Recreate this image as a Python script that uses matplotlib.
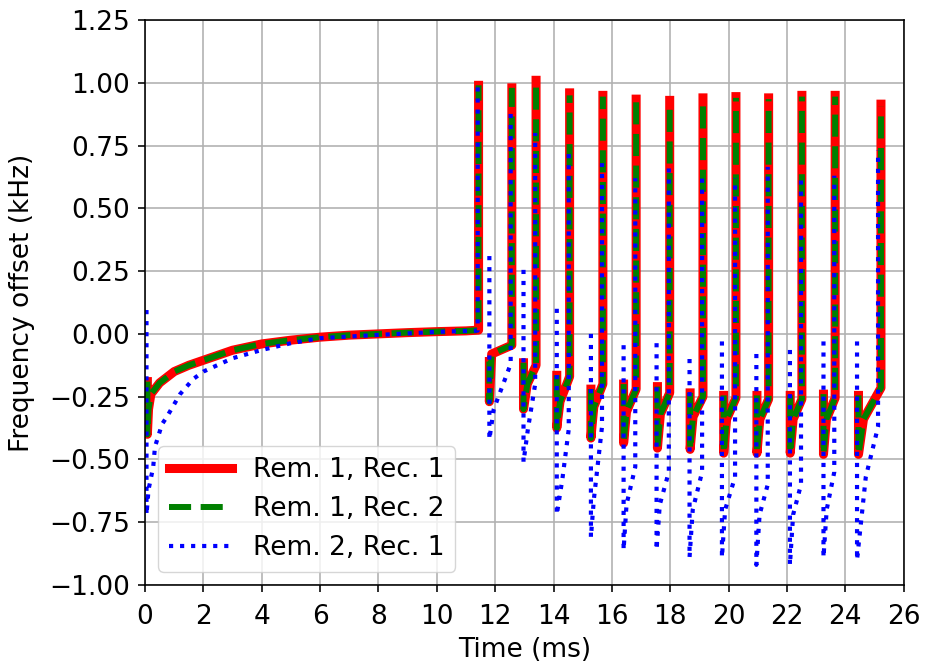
import numpy as np
import matplotlib
matplotlib.use('Agg')
import matplotlib.pyplot as plt

# settling curve after power-on (red and green share it), ends in the first spike
rem1_init_t = [0.08, 0.08, 0.12, 0.2, 0.5, 1.0, 1.5, 2.0, 3.0, 4.0, 5.0, 6.0, 7.0, 8.0, 9.0, 10.0, 11.0, 11.43, 11.43]
rem1_init_y = [-0.19, -0.40, -0.30, -0.24, -0.195, -0.15, -0.125, -0.105, -0.065, -0.04, -0.025, -0.013, -0.005, 0.0, 0.005, 0.009, 0.012, 0.015, 0.99]

rem2_init_t = [0.05, 0.05, 0.12, 0.28, 0.34, 0.58, 0.75, 1.2, 1.65, 2.0, 3.0, 4.0, 5.0, 6.0, 8.0, 10.0, 11.40, 11.40]
rem2_init_y = [0.095, -0.72, -0.62, -0.53, -0.45, -0.36, -0.33, -0.24, -0.18, -0.15, -0.097, -0.064, -0.037, -0.017, -0.004, 0.008, 0.013, 0.99]

# burst segments: drop at seg start, recovery, then spike
rem1_seg_start = [11.80, 12.97, 14.11, 15.28, 16.40, 17.56, 18.68, 19.83, 20.97, 22.11, 23.25, 24.45]
rem1_seg_top = [-0.11, -0.115, -0.165, -0.22, -0.20, -0.21, -0.235, -0.245, -0.245, -0.245, -0.24, -0.245]
rem1_seg_bottom = [-0.27, -0.30, -0.375, -0.415, -0.435, -0.455, -0.46, -0.475, -0.475, -0.475, -0.48, -0.48]
rem1_knee_t = [11.88, 13.10, 14.22, 15.38, 16.50, 17.66, 18.78, 19.93, 21.07, 22.21, 23.35, 24.62]
rem1_knee_y = [-0.08, -0.20, -0.27, -0.29, -0.31, -0.32, -0.33, -0.34, -0.34, -0.34, -0.34, -0.34]
rem1_spike_t = [12.57, 13.40, 14.55, 15.69, 16.83, 17.98, 19.12, 20.25, 21.37, 22.51, 23.65, 25.22]
rem1_spike_base = [-0.045, -0.125, -0.17, -0.20, -0.22, -0.235, -0.25, -0.255, -0.26, -0.26, -0.255, -0.215]
rec1_spike_peak = [0.98, 1.01, 0.96, 0.95, 0.935, 0.93, 0.94, 0.945, 0.94, 0.95, 0.95, 0.915]
rec2_spike_peak = [0.98, 0.99, 0.95, 0.945, 0.93, 0.925, 0.935, 0.94, 0.935, 0.945, 0.945, 0.905]

rem2_seg_start = [11.80, 12.97, 14.11, 15.28, 16.40, 17.53, 18.66, 19.77, 20.95, 22.10, 23.25, 24.40]
rem2_seg_top = [0.31, 0.255, 0.10, 0.0, -0.045, -0.037, -0.10, -0.03, -0.08, -0.064, -0.03, -0.03]
rem2_seg_bottom = [-0.42, -0.51, -0.72, -0.81, -0.86, -0.86, -0.89, -0.89, -0.92, -0.92, -0.89, -0.90]
rem2_knee_t = [11.95, 13.12, 14.30, 15.38, 16.50, 17.64, 18.77, 19.88, 21.06, 22.21, 23.36, 24.70]
rem2_knee_y = [-0.30, -0.38, -0.58, -0.66, -0.68, -0.68, -0.70, -0.70, -0.72, -0.72, -0.70, -0.57]
rem2_spike_t = [12.53, 13.37, 14.52, 15.66, 16.80, 17.95, 19.09, 20.22, 21.34, 22.48, 23.62, 25.12]
rem2_spike_base = [-0.12, -0.20, -0.38, -0.37, -0.53, -0.55, -0.55, -0.57, -0.60, -0.60, -0.55, -0.37]
rem2_spike_peak = [0.88, 0.80, 0.74, 0.68, 0.62, 0.68, 0.64, 0.62, 0.665, 0.62, 0.63, 0.73]


def build_trace(init_t, init_y, start, top, bottom, knee_t, knee_y, spike_t, base, peak):
    t = list(init_t)
    y = list(init_y)
    for i in range(len(start)):
        # NaN breaks the line between bursts
        t += [np.nan, start[i], start[i], knee_t[i], spike_t[i], spike_t[i]]
        y += [np.nan, top[i], bottom[i], knee_y[i], base[i], peak[i]]
    return np.array(t), np.array(y)


t_r, y_r = build_trace(rem1_init_t, rem1_init_y, rem1_seg_start, rem1_seg_top, rem1_seg_bottom,
                       rem1_knee_t, rem1_knee_y, rem1_spike_t, rem1_spike_base, rec1_spike_peak)
t_g, y_g = build_trace(rem1_init_t, rem1_init_y, rem1_seg_start, rem1_seg_top, rem1_seg_bottom,
                       rem1_knee_t, rem1_knee_y, rem1_spike_t, rem1_spike_base, rec2_spike_peak)
t_b, y_b = build_trace(rem2_init_t, rem2_init_y, rem2_seg_start, rem2_seg_top, rem2_seg_bottom,
                       rem2_knee_t, rem2_knee_y, rem2_spike_t, rem2_spike_base, rem2_spike_peak)

plt.rcParams.update({
    'font.size': 19,
    'axes.linewidth': 1.15,
    'grid.linewidth': 1.15,
    'xtick.major.size': 5,
    'ytick.major.size': 5,
    'xtick.major.width': 1.15,
    'ytick.major.width': 1.15,
    'xtick.major.pad': 9,
    'ytick.major.pad': 6,
})
fig = plt.figure(figsize=(9.25, 6.68), dpi=100)
ax = fig.add_axes([0.1568, 0.1243, 0.8202, 0.8457])

ax.plot(t_r, y_r, linestyle='-', color='r', linewidth=6.5, label='Rem. 1, Rec. 1')
ax.plot(t_g, y_g, linestyle='--', color='g', linewidth=4.3, label='Rem. 1, Rec. 2')
ax.plot(t_b, y_b, linestyle=':', color='b', linewidth=3, label='Rem. 2, Rec. 1')

ax.set_xlim(0, 26)
ax.set_ylim(-1.0, 1.25)
ax.set_xticks(np.arange(0, 27, 2))
ax.set_yticks(np.arange(-1.0, 1.26, 0.25))
ax.grid(True)
ax.set_xlabel('Time (ms)', labelpad=5)
ax.set_ylabel('Frequency offset (kHz)', labelpad=10)
ax.legend(loc='lower left', handlelength=2.4)

fig.savefig('out.png', dpi=100)
